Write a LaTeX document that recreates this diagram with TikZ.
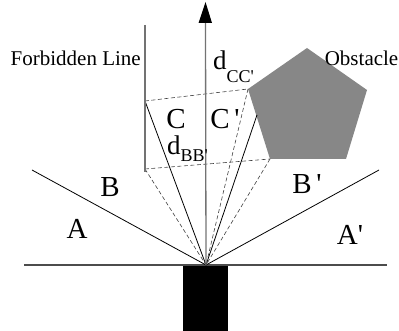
\documentclass[tikz,border=0pt]{standalone}
\usepackage{fontspec}
\setmainfont{Liberation Serif}
\newfontfamily\plainserif{Liberation Serif}
\begin{document}
\begin{tikzpicture}[x=1pt,y=-1pt,
  solidray/.style={black,line width=0.8pt},
  dashray/.style={black!75,dashed,dash pattern=on 4pt off 2.5pt,line width=0.6pt},
  vline/.style={black!55,line width=1.4pt},
  biglbl/.style={inner sep=0pt,text depth=0pt,font=\plainserif\fontsize{29}{29}\selectfont},
  dlbl/.style={inner sep=0pt,text height=18pt,text depth=0pt,anchor=base west,font=\plainserif\fontsize{27}{27}\selectfont},
  smalllbl/.style={inner sep=0pt,font=\plainserif\fontsize{21}{21}\selectfont}]
\useasboundingbox (0,0) rectangle (399,331);
% key points
\coordinate (O) at (206,265);
\coordinate (gl) at (24,265);
\coordinate (gr) at (387,265);
\coordinate (la) at (32,170);
\coordinate (ra) at (379,170);
\coordinate (fTop) at (145,25);
\coordinate (fBot) at (145,172);
\coordinate (tl) at (145,101);
\coordinate (bl) at (145,169);
\coordinate (tr) at (248,89);
\coordinate (br) at (270,159);
\coordinate (rs) at (257,115);
\coordinate (arrTop) at (205.5,2);
% obstacle
\fill[black!47] (307,48) -- (367,90) -- (346,159) -- (270,159) -- (248,89) -- cycle;
% robot body
\fill[black] (183,266) rectangle (228,331);
% ground
\draw[black!70,line width=1.2pt] (gl) -- (gr);
% boundary rays
\draw[solidray] (la) -- (O);
\draw[solidray] (ra) -- (O);
\draw[solidray] (tl) -- (O);
\draw[solidray] (rs) -- (O);
% dashed
\draw[dashray] (tl) -- (tr);
\draw[dashray] (bl) -- (br);
\draw[dashray] (bl) -- (O);
\draw[dashray] (tr) -- (O);
\draw[dashray] (br) -- (O);
% forbidden line
\draw[vline] (fTop) -- (fBot);
% main arrow
\draw[vline,line width=1.3pt] (O) -- (205.5,22);
\fill[black] (arrTop) -- (212,23) -- (198.5,23) -- cycle;
% labels
\node[smalllbl,anchor=east] (forb) at (141,58) {Forbidden Line};
\node[smalllbl,anchor=east] (obs) at (398.5,58) {Obstacle};
\node[biglbl] (A) at (77,229) {A};
\node[biglbl] (B) at (110,187) {B};
\node[biglbl] (Bp) at (307,184) {B\,'};
\node[biglbl] (Ap) at (350,235) {A'};
\node[biglbl] (C) at (176,119) {C};
\node[biglbl] (Cp) at (225,119) {C\,'};
\node[dlbl] (dbb) at (167,155) {d\raisebox{-7pt}{\fontsize{18}{18}\selectfont BB'}};
\node[dlbl] (dcc) at (213,70) {d\raisebox{-13pt}{\fontsize{18}{18}\selectfont CC'}};
\end{tikzpicture}
\end{document}
